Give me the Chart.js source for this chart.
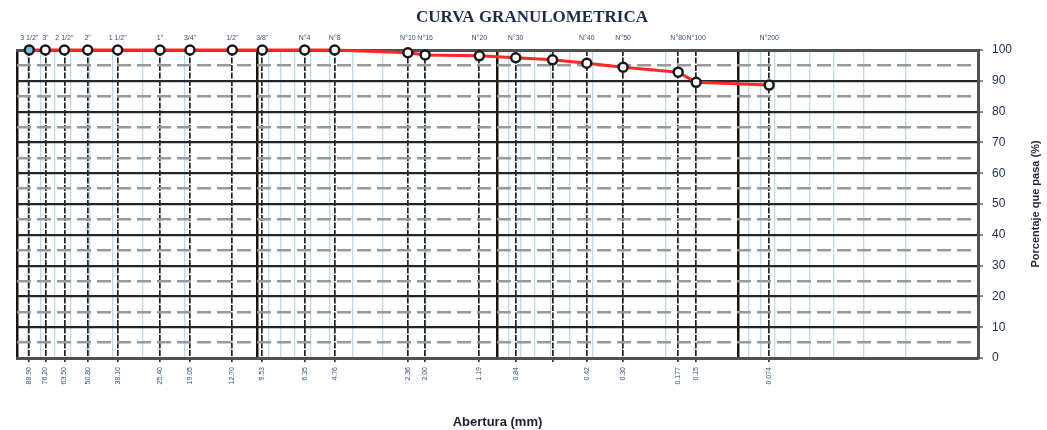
<!DOCTYPE html>
<html><head><meta charset="utf-8">
<script src="https://cdn.jsdelivr.net/npm/chart.js@4.4.0/dist/chart.umd.min.js"></script>
<style>html,body{margin:0;padding:0;background:#fff;}canvas{display:block;}</style>
</head><body>
<canvas id="c" width="1047" height="430"></canvas>
<script>
// ---- data ----
const sieveSizes = [88.9, 76.2, 63.5, 50.8, 38.1, 25.4, 19.05, 12.7, 9.525, 6.35, 4.76, 2.36, 2.0, 1.19, 0.84, 0.59, 0.425, 0.30, 0.177, 0.149, 0.074];
const passingPct = [100, 100, 100, 100, 100, 100, 100, 100, 100, 100, 100, 99.1, 98.4, 98.1, 97.5, 96.8, 95.7, 94.4, 92.8, 89.5, 88.6];
const topLabels = ['3 1/2"', '3"', '2 1/2"', '2"', '1 1/2"', '1"', '3/4"', '1/2"', '3/8"', 'N°4', 'N°8', 'N°10', 'N°16', 'N°20', 'N°30', '', 'N°40', 'N°50', 'N°80', 'N°100', 'N°200'];
const bottomLabels = ['88.90', '76.20', '63.50', '50.80', '38.10', '25.40', '19.05', '12.70', '9.53', '6.35', '4.76', '2.36', '2.00', '1.19', '0.84', '', '0.42', '0.30', '0.177', '0.15', '0.074'];
const yTickValues = [0, 10, 20, 30, 40, 50, 60, 70, 80, 90, 100];
const yHalfValues = [5, 15, 25, 35, 45, 55, 65, 75, 85, 95];
const logGridValues = [0.01,0.02,0.03,0.04,0.05,0.06,0.07,0.08,0.09,0.1,0.2,0.3,0.4,0.5,0.6,0.7,0.8,0.9,1,2,3,4,5,6,7,8,9,10,20,30,40,50,60,70,80,90,100];
const decadeValues = [0.01, 0.1, 1, 10, 100];
const chartTitle = 'CURVA GRANULOMETRICA';
const xTitle = 'Abertura (mm)';
const yTitle = 'Porcentaje que pasa (%)';

Chart.defaults.font.family = '"Liberation Sans", Arial, sans-serif';

const isDecade = v => decadeValues.some(d => Math.abs(d - v) < 1e-9);

const yTitlePlugin = {
  id: 'yTitle',
  afterDraw(chart) {
    const {ctx, chartArea} = chart;
    const ys = chart.scales.y;
    ctx.save();
    ctx.translate(ys.right - 11, (chartArea.top + chartArea.bottom) / 2);
    ctx.rotate(-Math.PI / 2);
    ctx.font = 'bold 11px "Liberation Sans", Arial, sans-serif';
    ctx.fillStyle = '#1e2535';
    ctx.textAlign = 'center';
    ctx.textBaseline = 'middle';
    ctx.fillText(yTitle, 0, 0);
    ctx.restore();
  }
};

const logCommon = {type: 'logarithmic', min: 0.01, max: 100, reverse: true};

new Chart(document.getElementById('c'), {
  type: 'line',
  data: {
    datasets: [{
      data: sieveSizes.map((s, i) => ({x: s, y: passingPct[i]})),
      xAxisID: 'x', yAxisID: 'y',
      borderColor: '#ff2626', borderWidth: 3,
      pointRadius: 4.5, pointBorderWidth: 2.5, pointBorderColor: '#1a1a1a',
      pointBackgroundColor: sieveSizes.map((s, i) => i === 0 ? '#6cc3d8' : '#ffffff'),
      tension: 0, clip: 10
    }]
  },
  options: {
    responsive: false, animation: false, devicePixelRatio: 1,
    layout: {padding: {left: 17, right: 0, top: 0, bottom: 0}},
    plugins: {
      legend: {display: false}, tooltip: {enabled: false},
      title: {display: true, text: chartTitle, color: '#1b2b4b',
        font: {family: '"Liberation Serif", "Times New Roman", serif', size: 17, weight: 'bold'},
        padding: {top: 7, bottom: 2}}
    },
    scales: {
      xGrid: Object.assign({}, logCommon, {
        position: 'bottom',
        afterBuildTicks: s => { s.ticks = logGridValues.map(v => ({value: v})); },
        afterFit: s => { s.height = 0; },
        ticks: {display: false},
        grid: {drawTicks: false,
          color: c => isDecade(c.tick.value) ? '#151515' : '#b8dde7',
          lineWidth: c => isDecade(c.tick.value) ? 2.5 : 1.3},
        border: {display: false}
      }),
      x: Object.assign({}, logCommon, {
        position: 'bottom',
        afterBuildTicks: s => { s.ticks = sieveSizes.map(v => ({value: v})); },
        afterFit: s => { s.height = 72; },
        ticks: {autoSkip: false, maxRotation: 90, minRotation: 90, padding: 5,
          font: {size: 7}, color: '#34507a', callback: (v, i) => bottomLabels[i]},
        grid: {color: '#222222', lineWidth: 1.7, drawTicks: true, tickLength: 4, tickColor: '#333'},
        border: {display: true, color: '#505050', width: 3, dash: [6, 1.5]},
        title: {display: true, text: xTitle, color: '#1a1f2e',
          font: {size: 13, weight: 'bold'}, padding: {top: 0, bottom: 0}}
      }),
      xTop: Object.assign({}, logCommon, {
        position: 'top',
        afterBuildTicks: s => { s.ticks = sieveSizes.map(v => ({value: v})); },
        afterFit: s => { s.height = 20.6; },
        ticks: {autoSkip: false, maxRotation: 0, minRotation: 0, padding: 8,
          font: {size: 7}, color: '#34507a', callback: (v, i) => topLabels[i]},
        grid: {display: false, drawTicks: false},
        border: {display: true, color: '#505050', width: 3}
      }),
      y: {
        position: 'right', min: 0, max: 100,
        afterBuildTicks: s => { s.ticks = yTickValues.map(v => ({value: v})); },
        afterFit: s => { s.width = 69; },
        ticks: {padding: 9, font: {size: 12}, color: '#23304f', callback: v => v},
        grid: {color: '#262626', lineWidth: 2.2, drawTicks: true, tickLength: 5, tickColor: '#888', tickWidth: 2},
        border: {display: true, color: '#505050', width: 3}
      },
      y2: {
        position: 'right', min: 0, max: 100,
        afterBuildTicks: s => { s.ticks = yHalfValues.map(v => ({value: v})); },
        afterFit: s => { s.width = 0; },
        ticks: {display: false},
        grid: {color: '#999999', lineWidth: 2.5, drawTicks: false},
        border: {display: false, dash: [14, 6]}
      }
    }
  },
  plugins: [yTitlePlugin]
});
</script>
</body></html>
